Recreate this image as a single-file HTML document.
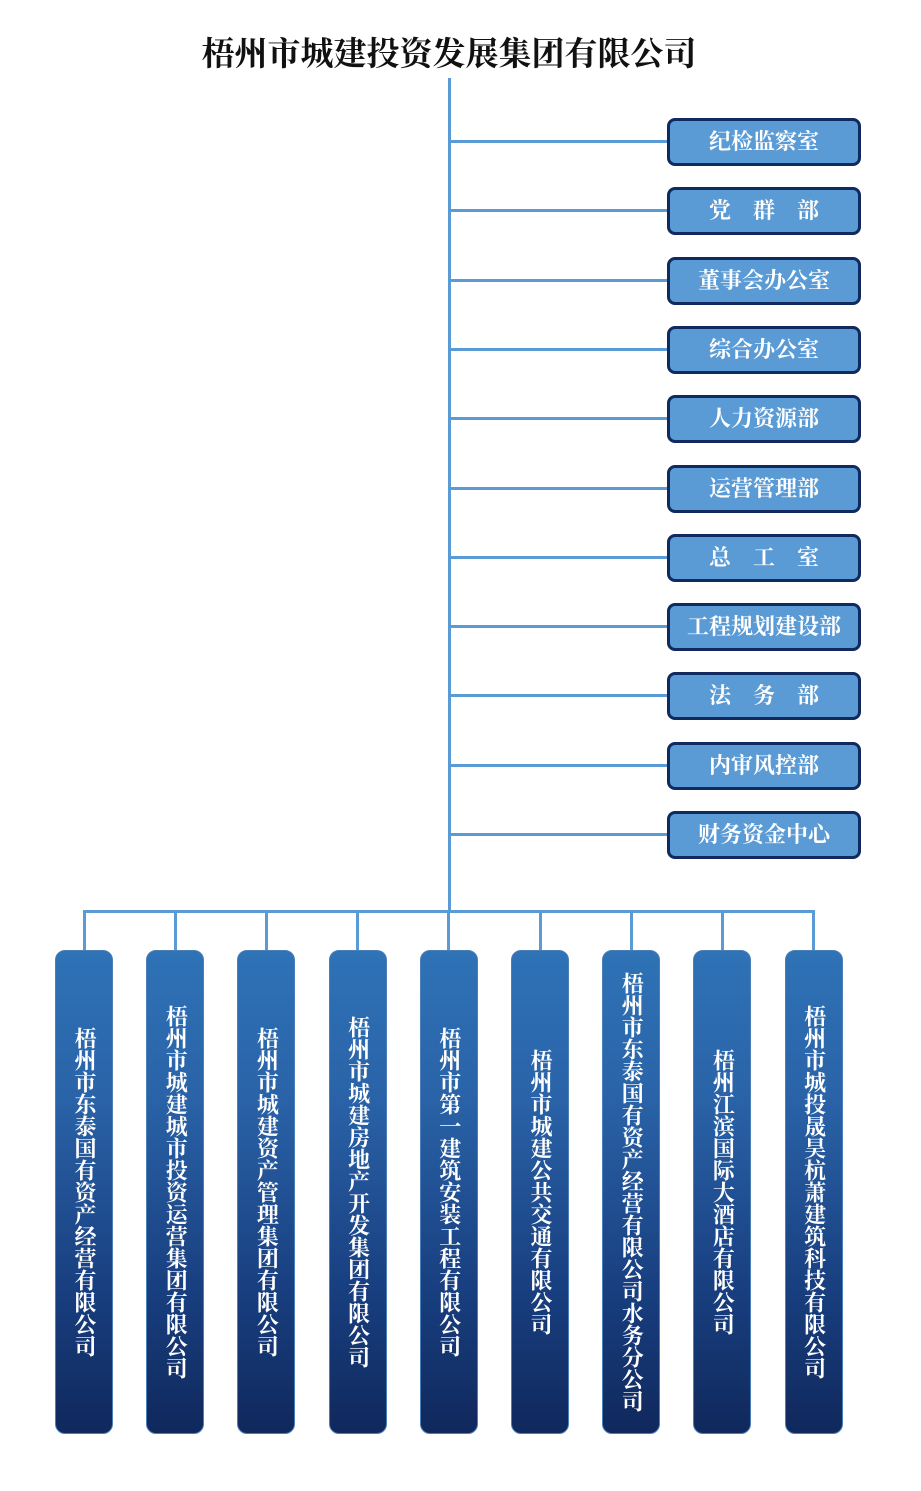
<!DOCTYPE html>
<html><head><meta charset="utf-8"><style>
body{margin:0;background:#fff;width:921px;height:1491px;position:relative;overflow:hidden;font-family:"Liberation Serif","Noto Serif CJK SC",serif;}
.t{position:absolute;left:0;width:898px;top:28px;text-align:center;font-size:33px;font-weight:bold;color:#111;}
.l{position:absolute;background:#5b9bd5;}
.r{position:absolute;left:667px;width:188px;height:42px;border:3px solid #10295e;border-radius:8px;background:#5b9bd5;color:#fff;font-size:22px;font-weight:bold;text-align:center;line-height:42px;}
.v{position:absolute;top:950px;width:58px;height:484px;border:1px solid #4a7fb8;border-radius:10px;background:linear-gradient(#2f72b6 0%,#2a63a8 30%,#183f80 70%,#10285c 100%);color:#fff;font-size:22px;font-weight:bold;display:flex;align-items:center;justify-content:center;box-sizing:border-box;}
.v span{writing-mode:vertical-rl;line-height:22px;}
</style></head><body>
<div class="t">梧州市城建投资发展集团有限公司</div>
<div class="l" style="left:448px;top:78px;width:3px;height:834px"></div>
<div class="l" style="left:83px;top:910px;width:732px;height:3px"></div>
<div id="h"></div>
<script>
var names=["纪检监察室","党　群　部","董事会办公室","综合办公室","人力资源部","运营管理部","总　工　室","工程规划建设部","法　务　部","内审风控部","财务资金中心"];
var s="";
for(var i=0;i<11;i++){var yy=118+i*69.3;s+='<div class="l" style="left:450px;top:'+(yy+22)+'px;width:220px;height:3px"></div><div class="r" style="top:'+yy+'px">'+names[i]+'</div>';}
var v=["梧州市东泰国有资产经营有限公司","梧州市城建城市投资运营集团有限公司","梧州市城建资产管理集团有限公司","梧州市城建房地产开发集团有限公司","梧州市第一建筑安装工程有限公司","梧州市城建公共交通有限公司","梧州市东泰国有资产经营有限公司水务分公司","梧州江滨国际大酒店有限公司","梧州市城投晟昊杭萧建筑科技有限公司"];
for(var j=0;j<9;j++){var c=84+j*91.2;s+='<div class="l" style="left:'+(c-1.5)+'px;top:911px;width:3px;height:40px"></div><div class="v" style="left:'+(c-29)+'px"><span>'+v[j]+'</span></div>';}
document.getElementById("h").innerHTML=s;
</script>
</body></html>
